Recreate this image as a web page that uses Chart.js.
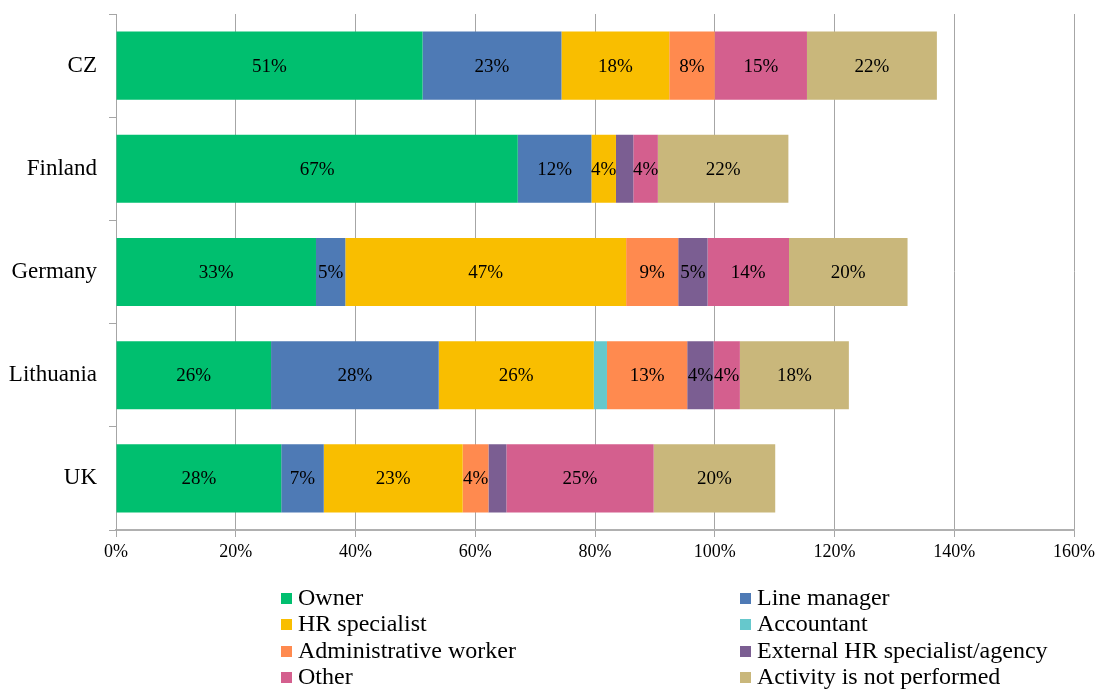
<!DOCTYPE html>
<html>
<head>
<meta charset="utf-8">
<script src="https://cdn.jsdelivr.net/npm/chart.js@4"></script>
<style>
  html, body { margin: 0; padding: 0; background: #fff; }
  #wrap { width: 1099px; height: 690px; position: relative; }
</style>
</head>
<body>
<div id="wrap"><canvas id="myChart"></canvas></div>
<script>
// Countries (top to bottom)
const countries = ['CZ', 'Finland', 'Germany', 'Lithuania', 'UK'];

// Share of firms per responsible person, in %
const owner          = [51.2, 67.1, 33.4, 25.9, 27.6];
const lineManager    = [23.2, 12.3, 4.9, 28.0, 7.1];
const hrSpecialist   = [18.0, 4.1, 46.9, 25.9, 23.2];
const accountant     = [0, 0, 0, 2.2, 0];
const adminWorker    = [7.6, 0, 8.7, 13.4, 4.3];
const externalHR     = [0, 2.9, 4.9, 4.4, 3.0];
const other          = [15.4, 4.1, 13.6, 4.4, 24.6];
const notPerformed   = [21.7, 21.8, 19.8, 18.2, 20.3];

const seriesNames = ['Owner', 'Line manager', 'HR specialist', 'Accountant',
  'Administrative worker', 'External HR specialist/agency', 'Other', 'Activity is not performed'];
const seriesData = [owner, lineManager, hrSpecialist, accountant, adminWorker, externalHR, other, notPerformed];
const seriesColors = ['#00BF6F', '#4E7AB5', '#F9BE00', '#66C8CC', '#FF8A4F', '#7B5E92', '#D45F8E', '#C9B77B'];

const xTicks = [0, 20, 40, 60, 80, 100, 120, 140, 160];

const serif = '"Liberation Serif", "Times New Roman", serif';

// Percent labels in the middle of each segment
const segmentLabels = {
  id: 'segmentLabels',
  afterDatasetsDraw(chart) {
    const { ctx } = chart;
    ctx.save();
    ctx.font = '19px ' + serif;
    ctx.fillStyle = '#000';
    ctx.textAlign = 'center';
    ctx.textBaseline = 'middle';
    chart.data.datasets.forEach((ds, i) => {
      chart.getDatasetMeta(i).data.forEach((bar, j) => {
        const v = ds.data[j];
        if (v < 3.5) return;
        const cx = (bar.x + bar.base) / 2;
        ctx.fillText(Math.round(v) + '%', cx, bar.y + 1);
      });
    });
    ctx.restore();
  }
};

// Two-column legend below the axis
const twoColLegend = {
  id: 'twoColLegend',
  afterDraw(chart) {
    const { ctx } = chart;
    ctx.save();
    ctx.font = '24px ' + serif;
    ctx.textBaseline = 'middle';
    ctx.textAlign = 'left';
    const colX = [281, 740];
    const rowY = [598, 624, 651, 677];
    chart.data.datasets.forEach((ds, i) => {
      const x = colX[i % 2];
      const y = rowY[Math.floor(i / 2)];
      ctx.fillStyle = ds.backgroundColor;
      ctx.fillRect(x, y - 5, 11, 11);
      ctx.fillStyle = '#000';
      ctx.fillText(ds.label, x + 17, y + 1);
    });
    ctx.restore();
  }
};

const datasets = seriesNames.map((name, i) => ({
  label: name,
  data: seriesData[i],
  backgroundColor: seriesColors[i],
  borderWidth: 0,
  categoryPercentage: 1,
  barPercentage: 0.66
}));

const config = {
  type: 'bar',
  data: { labels: countries, datasets: datasets },
  options: {
    indexAxis: 'y',
    responsive: false,
    animation: false,
    layout: { padding: { top: 14, right: 24, bottom: 120, left: 0 } },
    plugins: {
      legend: { display: false },
      tooltip: { enabled: false }
    },
    scales: {
      x: {
        stacked: true,
        min: 0,
        max: 160,
        afterBuildTicks(scale) { scale.ticks = xTicks.map(v => ({ value: v })); },
        afterFit(scale) { scale.height = 40; },
        ticks: {
          callback: v => v + '%',
          font: { family: serif, size: 18 },
          color: '#000',
          padding: 4
        },
        grid: { color: '#a6a6a6', lineWidth: 1, tickLength: 7 },
        border: { color: '#b0b0b0', width: 2 }
      },
      y: {
        stacked: true,
        afterFit(scale) {
          scale.width = 116;
          scale.paddingTop = 0;
          scale.paddingBottom = 0;
        },
        ticks: {
          font: { family: serif, size: 23 },
          color: '#000',
          padding: 12
        },
        grid: { drawOnChartArea: false, color: '#a6a6a6', tickLength: 7, offset: true },
        border: { color: '#a6a6a6', width: 1 }
      }
    }
  },
  plugins: [segmentLabels, twoColLegend]
};

const canvas = document.getElementById('myChart');
canvas.width = 1099;
canvas.height = 690;
new Chart(canvas, config);
</script>
</body>
</html>
